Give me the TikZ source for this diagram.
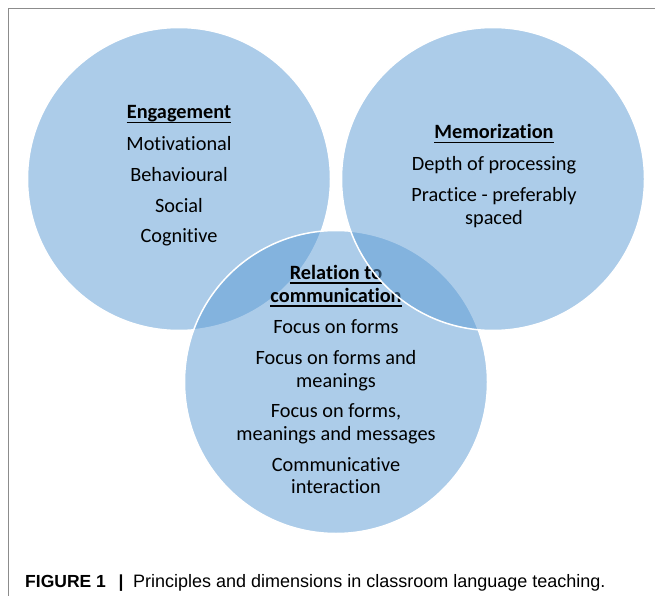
\documentclass[tikz,border=0pt]{standalone}
\usepackage{fontspec}
\setmainfont{Carlito}[Ligatures={NoCommon,NoContextual}]
\newfontfamily\capfont{Liberation Sans}
\usetikzlibrary{calc}
\definecolor{venn}{RGB}{91,155,213}
\definecolor{framegray}{RGB}{140,140,140}
\begin{document}
\begin{tikzpicture}[x=1pt,y=-1pt,
  venncircle/.style={circle,inner sep=0pt,minimum size=303pt,fill=venn,fill opacity=0.5,draw=white,line width=1.5pt},
  vtext/.style={anchor=base,inner sep=0pt,font=\fontsize{20.3}{24}\selectfont,text=black},
  vhead/.style={anchor=base,inner sep=0pt,font=\fontsize{20.3}{24}\selectfont\bfseries,text=black},
  uline/.style={line width=1.4pt,black},
  captext/.style={anchor=base west,inner sep=0pt,text=black}]
\useasboundingbox (0,0) rectangle (655,596);
\fill[white] (0,0) rectangle (655,596);
\draw[framegray,line width=0.9pt] (655,8.5) -- (8.5,8.5) -- (8.5,596);
% left circle
\node[venncircle] (L) at (179,179) {};
\node[vhead] (l0) at (179,119) {Engagement};
\draw[uline] ($(l0.base west)+(0,3.6)$) -- ($(l0.base east)+(0,3.6)$);
\node[vtext] (l1) at (179,150) {Motivational};
\node[vtext] (l2) at (179,181) {Behavioural};
\node[vtext] (l3) at (179,212) {Social};
\node[vtext] (l4) at (179,242.5) {Cognitive};
% bottom circle
\node[venncircle] (B) at (336,382) {};
\node[vhead] (b0) at (336,279.5) {Relation to};
\draw[uline] ($(b0.base west)+(0,3.6)$) -- ($(b0.base east)+(0,3.6)$);
\node[vhead] (b1) at (336,302.5) {communication};
\draw[uline] ($(b1.base west)+(0,3.6)$) -- ($(b1.base east)+(0,3.6)$);
\node[vtext] (b2) at (336,333.5) {Focus on forms};
\node[vtext] (b3) at (336,364.5) {Focus on forms and};
\node[vtext] (b4) at (336,387.5) {meanings};
\node[vtext] (b5) at (336,417.5) {Focus on forms,};
\node[vtext] (b6) at (336,440.5) {meanings and messages};
\node[vtext] (b7) at (336,471.5) {Communicative};
\node[vtext] (b8) at (336,493.5) {interaction};
% right circle
\node[venncircle] (R) at (493,179) {};
\node[vhead] (r0) at (494,139) {Memorization};
\draw[uline] ($(r0.base west)+(0,3.6)$) -- ($(r0.base east)+(0,3.6)$);
\node[vtext] (r1) at (494,170.5) {Depth of processing};
\node[vtext] (r2) at (494,201.5) {Practice - preferably};
\node[vtext] (r3) at (494,224) {spaced};
% caption
\node[captext,font=\capfont\fontsize{17.5}{20}\selectfont\bfseries] (fig) at (25,587) {FIGURE 1};
\node[captext,font=\capfont\fontsize{17.5}{20}\selectfont\bfseries] (bar) at (118.5,587) {|};
\node[captext,font=\capfont\fontsize{18}{20}\selectfont] (cap) at (133,587) {Principles and dimensions in classroom language teaching.};
\end{tikzpicture}
\end{document}
